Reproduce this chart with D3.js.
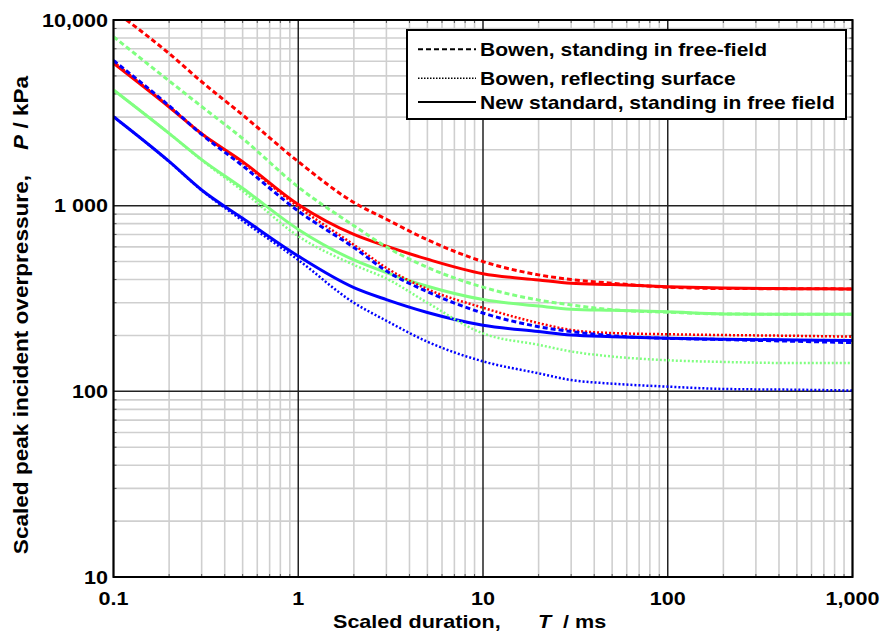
<!DOCTYPE html>
<html>
<head>
<meta charset="utf-8">
<script src="https://cdn.jsdelivr.net/npm/d3@7"></script>
<style>
  body { margin: 0; background: #fff; }
  svg { display: block; }
  text { font-family: "Liberation Sans", Arial, sans-serif; font-weight: bold; fill: #000; white-space: pre; }
</style>
</head>
<body>
<svg id="chart" width="882" height="635"></svg>
<script>
// Scaled positive-phase duration (ms)
const durations = [0.1, 0.2, 0.3, 0.5, 1, 2, 3, 5, 10, 20, 30, 50, 100, 200, 500, 1000];

// Scaled peak incident overpressure (kPa), three levels per curve family
const bowenFreeRed    = [11300, 6600, 4650, 3080, 1726, 1040, 845, 655, 500, 424, 400, 382, 364, 358, 357, 356];
const bowenFreeGreen  = [8130, 4700, 3420, 2300, 1260, 780, 600, 465, 364, 310, 292, 275, 267, 261, 260, 260];
const bowenFreeBlue   = [6050, 3450, 2420, 1640, 935, 595, 445, 344, 264, 223, 210, 199, 193, 190, 186, 183];

const bowenReflRed    = [5950, 3420, 2450, 1700, 985, 615, 462, 355, 282, 233, 214, 206, 203, 201, 199, 197];
const bowenReflGreen  = [4200, 2450, 1760, 1200, 685, 480, 405, 300, 205, 178, 164, 154, 147, 144, 142, 142];
const bowenReflBlue   = [3013, 1726, 1210, 830, 510, 300, 240, 185, 145, 125, 115, 110, 106, 103, 102, 101];

const newStdRed       = [5850, 3400, 2440, 1726, 1015, 700, 605, 515, 430, 398, 382, 376, 366, 360, 357, 356];
const newStdGreen     = [4200, 2450, 1770, 1240, 745, 510, 436, 368, 312, 288, 277, 273, 268, 261, 260, 260];
const newStdBlue      = [3013, 1730, 1215, 855, 535, 362, 312, 266, 227, 210, 201, 197, 193, 191, 189, 188];

const xTicks = [0.1, 1, 10, 100, 1000];
const xTickLabels = ["0.1", "1", "10", "100", "1,000"];
const yTicks = [10, 100, 1000, 10000];
const yTickLabels = ["10", "100", "1 000", "10,000"];
const legendLabels = ["Bowen, standing in free-field", "Bowen, reflecting surface", "New standard, standing in free field"];

const svg = d3.select("#chart");
const plotL = 113.5, plotR = 852.5, plotT = 20, plotB = 577;

const x = d3.scaleLog().domain([0.1, 1000]).range([plotL, plotR]);
const y = d3.scaleLog().domain([10, 10000]).range([plotB, plotT]);

const colors = { red: "#ff0000", green: "#80ff80", blue: "#0000ff" };
const styles = {
  dashed: { width: 3, dash: "5,3" },
  dotted: { width: 2.5, dash: "2,2" },
  solid:  { width: 3, dash: null }
};

const series = [
  { values: newStdRed, color: colors.red, style: "solid" },
  { values: newStdGreen, color: colors.green, style: "solid" },
  { values: newStdBlue, color: colors.blue, style: "solid" },
  { values: bowenReflRed, color: colors.red, style: "dotted" },
  { values: bowenReflGreen, color: colors.green, style: "dotted" },
  { values: bowenReflBlue, color: colors.blue, style: "dotted" },
  { values: bowenFreeRed, color: colors.red, style: "dashed" },
  { values: bowenFreeGreen, color: colors.green, style: "dashed" },
  { values: bowenFreeBlue, color: colors.blue, style: "dashed" }
];

// minor tick positions within each decade
function minors(lo, hi) {
  const out = [];
  for (let d = lo; d < hi * 0.999; d *= 10)
    for (let k = 2; k <= 9; k++) out.push(d * k);
  return out;
}
const xMinor = minors(0.1, 1000);
const yMinor = minors(10, 10000);

const grid = svg.append("g");
grid.selectAll(".xm").data(xMinor).join("line")
  .attr("x1", d => x(d)).attr("x2", d => x(d))
  .attr("y1", plotT).attr("y2", plotB)
  .attr("stroke", "#cfcfcf").attr("stroke-width", 1.6);
grid.selectAll(".ym").data(yMinor).join("line")
  .attr("y1", d => y(d)).attr("y2", d => y(d))
  .attr("x1", plotL).attr("x2", plotR)
  .attr("stroke", "#cfcfcf").attr("stroke-width", 1.6);
grid.selectAll(".xM").data(xTicks).join("line")
  .attr("x1", d => x(d)).attr("x2", d => x(d))
  .attr("y1", plotT).attr("y2", plotB)
  .attr("stroke", "#222").attr("stroke-width", 1.5);
grid.selectAll(".yM").data(yTicks).join("line")
  .attr("y1", d => y(d)).attr("y2", d => y(d))
  .attr("x1", plotL).attr("x2", plotR)
  .attr("stroke", "#222").attr("stroke-width", 1.5);

// small inward ticks on the frame
const tk = svg.append("g").attr("stroke", "#555").attr("stroke-width", 1);
xMinor.forEach(d => {
  tk.append("line").attr("x1", x(d)).attr("x2", x(d)).attr("y1", plotT).attr("y2", plotT + 3);
  tk.append("line").attr("x1", x(d)).attr("x2", x(d)).attr("y1", plotB).attr("y2", plotB - 3);
});
yMinor.forEach(d => {
  tk.append("line").attr("y1", y(d)).attr("y2", y(d)).attr("x1", plotL).attr("x2", plotL + 3);
  tk.append("line").attr("y1", y(d)).attr("y2", y(d)).attr("x1", plotR).attr("x2", plotR - 3);
});

svg.append("clipPath").attr("id", "plotClip")
  .append("rect").attr("x", plotL).attr("y", plotT).attr("width", plotR - plotL).attr("height", plotB - plotT);

const line = d3.line()
  .x((d, i) => x(durations[i]))
  .y(d => y(d))
  .curve(d3.curveMonotoneX);

svg.append("g").attr("clip-path", "url(#plotClip)")
  .selectAll("path").data(series).join("path")
  .attr("d", s => line(s.values))
  .attr("fill", "none")
  .attr("stroke", s => s.color)
  .attr("stroke-width", s => styles[s.style].width)
  .attr("stroke-dasharray", s => styles[s.style].dash);

// plot frame
svg.append("rect").attr("x", plotL).attr("y", plotT)
  .attr("width", plotR - plotL).attr("height", plotB - plotT)
  .attr("fill", "none").attr("stroke", "#000").attr("stroke-width", 2);

// text drawn slightly wide, anchored at (px, py)
function wideText(parent, px, py, str, size, sx, anchor) {
  return parent.append("text")
    .attr("transform", `translate(${px},${py}) scale(${sx},1)`)
    .attr("text-anchor", anchor || "start")
    .attr("font-size", size)
    .text(str);
}

// tick labels
const tl = svg.append("g");
xTicks.forEach((d, i) => wideText(tl, x(d), 605, xTickLabels[i], 18.6, 1.16, "middle"));
yTicks.forEach((d, i) => wideText(tl, 108, y(d) + 6.6, yTickLabels[i], 18.6, 1.16, "end"));

// axis titles
const xt = svg.append("g");
wideText(xt, 333, 628, "Scaled duration,", 18.6, 1.16);
wideText(xt, 538, 628, "T", 18.6, 1.16).attr("font-style", "italic");
wideText(xt, 563, 628, "/ ms", 18.6, 1.16);

const yt = svg.append("text")
  .attr("transform", "translate(28,315) rotate(-90) scale(1.13,1)")
  .attr("text-anchor", "middle").attr("font-size", 20);
yt.append("tspan").text("Scaled peak incident overpressure,    ");
yt.append("tspan").attr("font-style", "italic").text("P");
yt.append("tspan").text(" / kPa");

// legend
const lg = svg.append("g");
lg.append("rect").attr("x", 407).attr("y", 30).attr("width", 439).attr("height", 89)
  .attr("fill", "#fff").attr("stroke", "#000").attr("stroke-width", 2);
const legendStyles = ["dashed", "dotted", "solid"];
const rowY = [49.3, 78.3, 102];
legendLabels.forEach((lab, i) => {
  const kind = legendStyles[i];
  lg.append("line").attr("x1", 418).attr("x2", 476).attr("y1", rowY[i]).attr("y2", rowY[i])
    .attr("stroke", "#000")
    .attr("stroke-width", kind === "dotted" ? 1.5 : 2)
    .attr("stroke-dasharray", kind === "dotted" ? "1.5,1.5" : styles[kind].dash);
  wideText(lg, 480, rowY[i] + 6.6, lab, 18.6, 1.13);
});
</script>
</body>
</html>
